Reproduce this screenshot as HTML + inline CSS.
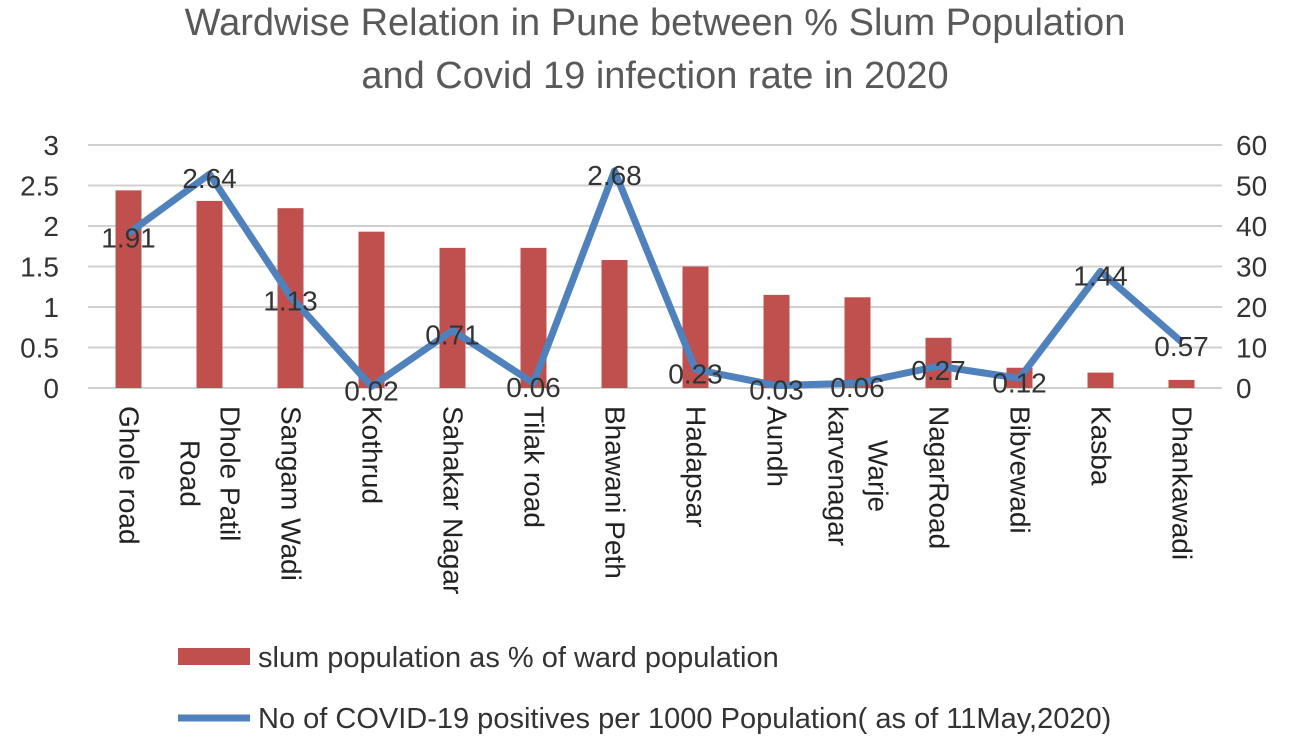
<!DOCTYPE html>
<html><head><meta charset="utf-8"><style>
body{margin:0;background:#fff;font-family:"Liberation Sans",sans-serif;}
#wrap{position:relative;width:1299px;height:747px;overflow:hidden;}
.xl{position:absolute;top:406px;writing-mode:vertical-rl;text-align:center;font-size:28px;color:#222;line-height:40px;white-space:pre;}
</style></head><body>
<div id="wrap">
<svg id="svg" width="1299" height="747" style="position:absolute;left:0;top:0">
<text x="655" y="35" text-anchor="middle" font-size="38" fill="#595959">Wardwise Relation in Pune between % Slum Population</text>
<text x="655" y="88" text-anchor="middle" font-size="38" fill="#595959">and Covid 19 infection rate in 2020</text>
<g id="grid"></g><g id="bars"></g><g id="line"></g><g id="labels"></g>
<rect x="178" y="648" width="72" height="17" fill="#c0504d"/>
<text x="258" y="667" font-size="29" fill="#333">slum population as % of ward population</text>
<line x1="178" y1="718" x2="250" y2="718" stroke="#4f81bd" stroke-width="7"/>
<text x="258" y="728" font-size="29" fill="#333">No of COVID-19 positives per 1000 Population( as of 11May,2020)</text>
</svg>
<div id="xlabels"></div>
</div>
<script>
const categories=["Ghole road","Dhole Patil\nRoad","Sangam Wadi","Kothrud","Sahakar Nagar","Tilak road","Bhawani Peth","Hadapsar","Aundh","Warje\nkarvenagar","NagarRoad","Bibvewadi","Kasba","Dhankawadi"];
const slumPct=[2.44,2.31,2.22,1.93,1.73,1.73,1.58,1.5,1.15,1.12,0.62,0.25,0.19,0.1];
const covidLabels=[1.91,2.64,1.13,0.02,0.71,0.06,2.68,0.23,0.03,0.06,0.27,0.12,1.44,0.57];
const leftTicks=[0,0.5,1,1.5,2,2.5,3];
const rightTicks=[0,10,20,30,40,50,60];
const ns="http://www.w3.org/2000/svg";
const x0=88,x1=1222,yB=388,yT=145;
const step=(x1-x0)/categories.length;
const xC=i=>x0+step*(i+0.5);
const yL=v=>yB-(v/3)*(yB-yT);
const yR=v=>yB-(v/60)*(yB-yT);
function mk(tag,attrs,parent){const e=document.createElementNS(ns,tag);for(const k in attrs)e.setAttribute(k,attrs[k]);parent.appendChild(e);return e;}
const grid=document.getElementById('grid');
leftTicks.forEach((t,i)=>{
 const g=mk('line',{x1:x0,x2:x1,y1:yL(t),y2:yL(t),stroke:'#d0d0d0','stroke-width':2},grid);
 
 
 const a=mk('text',{x:59,y:yL(t)+10,'text-anchor':'end','font-size':28,fill:'#333'},grid);a.textContent=t;
 
 
 const b=mk('text',{x:1236,y:yR(rightTicks[i])+10,'font-size':28,fill:'#333'},grid);b.textContent=rightTicks[i];
 
 
});
const bars=document.getElementById('bars');
slumPct.forEach((v,i)=>{
 const r=mk('rect',{x:xC(i)-13,y:yL(v),width:26,height:yB-yL(v),fill:'#c0504d'},bars);
 
 
});
const pts=covidLabels.map((v,i)=>xC(i)+','+yR(v*20)).join(' ');
const pl=mk('polyline',{points:pts,fill:'none',stroke:'#4f81bd','stroke-width':7,'stroke-linejoin':'round'},document.getElementById('line'));


const labs=document.getElementById('labels');
covidLabels.forEach((v,i)=>{
 const t=mk('text',{x:xC(i),y:yR(v*20)+14,'text-anchor':'middle','font-size':28,fill:'#333'},labs);
 t.textContent=v.toFixed(2);
 
 
});
const xl=document.getElementById('xlabels');
categories.forEach((c,i)=>{
 const d=document.createElement('div');
 d.className='xl';
 d.textContent=c;
 
 
 xl.appendChild(d);
 const lines=c.split('\n').length;
 d.style.left=(xC(i)-lines*20)+'px';
});
</script>
</body></html>
